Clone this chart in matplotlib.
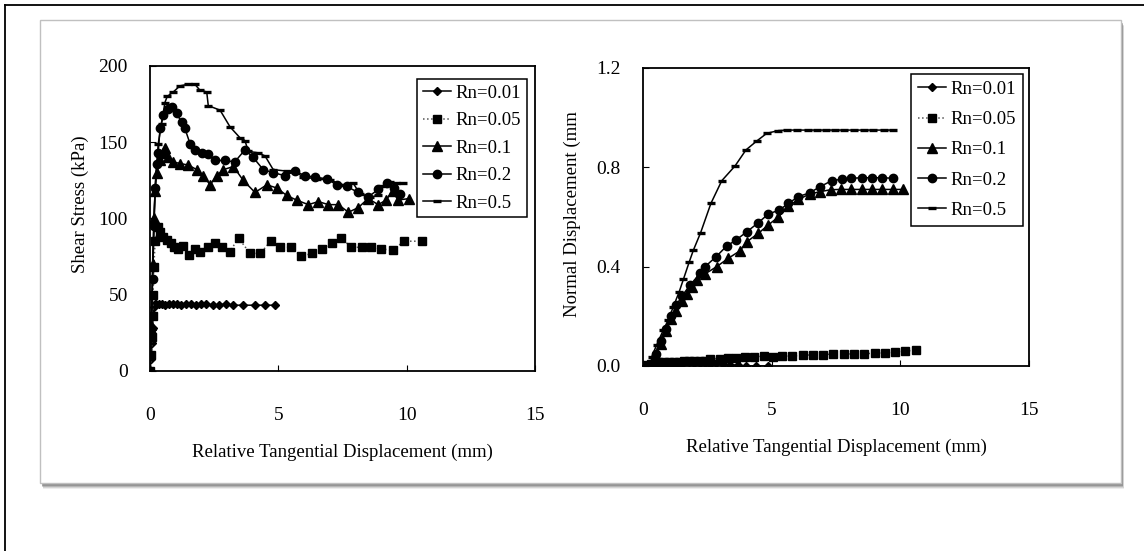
import matplotlib
matplotlib.use("Agg")
import matplotlib.pyplot as plt
from matplotlib.patches import Rectangle
from matplotlib.lines import Line2D

plt.rcParams['font.family'] = ['Liberation Serif', 'DejaVu Serif']

# ---- shear stress vs relative tangential displacement (left panel)
s01_x = [0, 0.05, 0.08, 0.1, 0.12, 0.14, 0.18, 0.25, 0.35, 0.45, 0.6, 0.75, 0.9, 1.05, 1.2, 1.4,
         1.6, 1.8, 2.0, 2.2, 2.45, 2.7, 2.95, 3.23, 3.62, 4.09, 4.48, 4.87]
s01_y = [0, 8, 18, 28, 36, 42, 44, 44, 44, 44, 43, 44, 44, 44, 43, 44,
         44, 43, 44, 44, 43, 43, 44, 43, 43, 43, 43, 43]

s05_x = [0, 0.05, 0.08, 0.1, 0.12, 0.15, 0.2, 0.3, 0.4, 0.5, 0.65, 0.8, 0.95, 1.1, 1.3, 1.5,
         1.75, 1.95, 2.25, 2.55, 2.8, 3.1, 3.45, 3.9, 4.3, 4.7, 5.05, 5.5, 5.9, 6.3, 6.7,
         7.1, 7.45, 7.85, 8.25, 8.6, 9.0, 9.45, 9.9, 10.6]
s05_y = [0, 10, 22, 36, 50, 68, 85, 94, 91, 88, 86, 84, 81, 80, 82, 76,
         80, 78, 81, 84, 81, 78, 87, 77, 77, 85, 81, 81, 75, 77, 80,
         84, 87, 81, 81, 81, 80, 79, 85, 85]

s1_x = [0, 0.05, 0.1, 0.15, 0.2, 0.26, 0.39, 0.5, 0.58, 0.71, 0.91, 1.17, 1.49, 1.82, 2.08,
        2.34, 2.6, 2.86, 3.25, 3.63, 4.09, 4.55, 4.93, 5.33, 5.71, 6.17, 6.56, 6.95, 7.34,
        7.73, 8.11, 8.5, 8.89, 9.2, 9.45, 9.66, 10.1]
s1_y = [0, 30, 70, 100, 118, 130, 138, 143, 146, 140, 137, 136, 135, 132, 128,
        122, 128, 132, 134, 125, 117, 122, 120, 115, 112, 109, 111, 109, 109,
        104, 107, 113, 109, 112, 118, 112, 113]

s2_x = [0, 0.05, 0.1, 0.15, 0.2, 0.26, 0.32, 0.39, 0.52, 0.71, 0.84, 1.04, 1.23, 1.36, 1.56,
        1.75, 2.01, 2.27, 2.53, 2.92, 3.3, 3.7, 4.02, 4.41, 4.8, 5.26, 5.65, 6.04, 6.43,
        6.88, 7.27, 7.66, 8.11, 8.5, 8.89, 9.22, 9.5, 9.75]
s2_y = [0, 25, 60, 95, 120, 136, 143, 159, 168, 172, 173, 169, 163, 159, 149,
        145, 143, 142, 138, 138, 137, 145, 140, 132, 130, 128, 131, 128, 127,
        126, 122, 121, 117, 114, 119, 123, 120, 116]

s5_x = [0, 0.1, 0.2, 0.32, 0.45, 0.58, 0.67, 0.91, 1.17, 1.49, 1.75, 1.95, 2.21, 2.27, 2.73,
        3.12, 3.5, 3.7, 3.83, 4.22, 4.48, 4.8, 5.33, 5.65, 5.97, 6.5, 7.01, 7.53, 7.92,
        8.18, 8.57, 8.89, 9.09, 9.35, 9.6, 9.85]
s5_y = [0, 60, 120, 149, 162, 176, 180, 183, 187, 188, 188, 184, 183, 174, 171,
        160, 153, 151, 144, 143, 141, 132, 131, 131, 127, 126, 125, 122, 123,
        116, 114, 115, 121, 124, 123, 123]

# ---- normal displacement vs relative tangential displacement (right panel)
n01_x = [0, 0.1, 0.2, 0.3, 0.4, 0.5, 0.6, 0.7, 0.8, 0.9, 1.0, 1.2, 1.4, 1.6, 1.8, 2.0, 2.2,
         2.4, 2.6, 2.85, 3.1, 3.4, 3.7, 4.0, 4.4, 4.85]
n01_y = [0, 0.003, 0.006, 0.008, 0.01, 0.012, 0.014, 0.015, 0.015, 0.015, 0.015, 0.015,
         0.015, 0.015, 0.015, 0.014, 0.013, 0.012, 0.01, 0.012, 0.008, 0.005, 0.003, 0.0,
         0.0, 0.0]

n05_x = [0, 0.15, 0.3, 0.45, 0.6, 0.8, 1.0, 1.2, 1.4, 1.6, 1.8, 2.0, 2.2, 2.4, 2.6, 3.0,
         3.3, 3.6, 3.95, 4.3, 4.7, 5.05, 5.4, 5.8, 6.2, 6.6, 7.0, 7.4, 7.8, 8.2, 8.6,
         9.0, 9.4, 9.8, 10.2, 10.6]
n05_y = [0, 0.005, 0.01, 0.013, 0.015, 0.017, 0.017, 0.018, 0.018, 0.019, 0.02, 0.02,
         0.02, 0.02, 0.03, 0.03, 0.032, 0.034, 0.036, 0.038, 0.039, 0.038, 0.04, 0.04,
         0.043, 0.045, 0.046, 0.048, 0.048, 0.049, 0.05, 0.051, 0.053, 0.055, 0.06, 0.064]

n1_x = [0, 0.3, 0.5, 0.7, 0.9, 1.1, 1.3, 1.5, 1.7, 1.9, 2.1, 2.4, 2.86, 3.32, 3.77, 4.03,
        4.48, 4.87, 5.26, 5.65, 6.04, 6.49, 6.88, 7.3, 7.7, 8.1, 8.5, 8.9, 9.3, 9.7, 10.1]
n1_y = [0, 0.0, 0.04, 0.09, 0.14, 0.19, 0.22, 0.26, 0.29, 0.32, 0.345, 0.37, 0.40, 0.434,
        0.464, 0.50, 0.534, 0.568, 0.60, 0.644, 0.671, 0.693, 0.702, 0.71, 0.711, 0.711,
        0.711, 0.711, 0.711, 0.711, 0.711]

n2_x = [0, 0.3, 0.5, 0.7, 0.9, 1.1, 1.3, 1.5, 1.83, 2.22, 2.41, 2.84, 3.25, 3.61, 4.03,
        4.48, 4.87, 5.3, 5.65, 6.04, 6.49, 6.88, 7.33, 7.72, 8.1, 8.5, 8.9, 9.3, 9.73]
n2_y = [0, 0.0, 0.05, 0.1, 0.15, 0.2, 0.245, 0.28, 0.326, 0.373, 0.40, 0.44, 0.483, 0.507,
        0.54, 0.577, 0.612, 0.628, 0.655, 0.682, 0.698, 0.722, 0.746, 0.752, 0.756,
        0.758, 0.758, 0.758, 0.756]

n5_x = [0, 0.3, 0.34, 0.53, 0.79, 0.98, 1.18, 1.41, 1.57, 1.8, 1.96, 2.24, 2.64, 3.06,
        3.58, 4.0, 4.42, 4.81, 5.26, 5.6, 6.0, 6.4, 6.75, 7.1, 7.45, 7.8, 8.2, 8.6, 8.95,
        9.35, 9.73]
n5_y = [0, 0.0, 0.037, 0.085, 0.145, 0.185, 0.239, 0.30, 0.349, 0.42, 0.467, 0.537,
        0.655, 0.746, 0.806, 0.87, 0.906, 0.937, 0.948, 0.95, 0.95, 0.95, 0.95, 0.95,
        0.95, 0.95, 0.95, 0.95, 0.95, 0.95, 0.95]

labels = ['Rn=0.01', 'Rn=0.05', 'Rn=0.1', 'Rn=0.2', 'Rn=0.5']
x_ticks = [0, 5, 10, 15]
shear_ticks = [0, 50, 100, 150, 200]
normal_ticks = [0.0, 0.4, 0.8, 1.2]
normal_ticklabels = ['0.0', '0.4', '0.8', '1.2']

fig = plt.figure(figsize=(11.44, 5.51), dpi=100)

# outer frame (only top/left edges visible)
fig.add_artist(Line2D([5 / 1144, 1], [1 - 5 / 551, 1 - 5 / 551], color='black', lw=1.3))
fig.add_artist(Line2D([5 / 1144, 5 / 1144], [0, 1 - 5 / 551], color='black', lw=1.3))

# inner card with soft shadow
bx0, by0, bx1, by1 = 40 / 1144, 1 - 483 / 551, 1121 / 1144, 1 - 20 / 551
for i, a in enumerate([0.12, 0.2, 0.3, 0.45]):
    off = (6 - i) / 1144, (6 - i) / 551
    fig.add_artist(Rectangle((bx0 + off[0] * 0.5, by0 - off[1]), bx1 - bx0, by1 - by0,
                             facecolor='#707070', edgecolor='none', alpha=a,
                             transform=fig.transFigure, zorder=-3))
fig.add_artist(Rectangle((bx0, by0), bx1 - bx0, by1 - by0, facecolor='white',
                         edgecolor='#c0c0c0', lw=1.0, transform=fig.transFigure, zorder=-2))

ax1 = fig.add_axes([150 / 1144, 1 - 370.7 / 551, 385 / 1144, 304.7 / 551])
ax2 = fig.add_axes([643 / 1144, 1 - 366 / 551, 386 / 1144, 298 / 551])

lw = 1.1


def draw(ax, data):
    (x01, y01), (x05, y05), (x1, y1), (x2, y2), (x5, y5) = data
    ax.plot(x01, y01, color='black', lw=lw, marker='D', ms=4.5, label=labels[0])
    ax.plot(x05, y05, color='#555555', lw=lw, ls=':', marker='s', ms=5.5,
            mfc='black', mec='black', label=labels[1])
    ax.plot(x1, y1, color='black', lw=lw, marker='^', ms=6.5, label=labels[2])
    ax.plot(x2, y2, color='black', lw=lw, marker='o', ms=6, label=labels[3])
    ax.plot(x5, y5, color='black', lw=lw, marker='_', ms=6, mew=2.4, label=labels[4])
    ax.set_xlim(0, 15)
    ax.set_xticks(x_ticks)
    ax.tick_params(direction='in', length=4, width=0.8, labelsize=14)
    ax.tick_params(axis='x', pad=26)
    ax.tick_params(axis='y', pad=16)
    for sp in ax.spines.values():
        sp.set_linewidth(1.3)
    ax.set_xlabel('Relative Tangential Displacement (mm)', fontsize=13.5, labelpad=14)


draw(ax1, [(s01_x, s01_y), (s05_x, s05_y), (s1_x, s1_y), (s2_x, s2_y), (s5_x, s5_y)])
ax1.set_ylim(0, 200)
ax1.set_yticks(shear_ticks)
ax1.set_ylabel('Shear Stress (kPa)', fontsize=13.5)
ax1.yaxis.set_label_coords(-0.158, 0.547)
leg1 = ax1.legend(loc='upper right', bbox_to_anchor=(0.979, 0.957), fontsize=13.5,
                  frameon=True, fancybox=False, edgecolor='black', framealpha=1,
                  handlelength=1.5, handletextpad=0.25, labelspacing=0.55,
                  borderpad=0.3, borderaxespad=0)
leg1.get_frame().set_linewidth(1.1)

draw(ax2, [(n01_x, n01_y), (n05_x, n05_y), (n1_x, n1_y), (n2_x, n2_y), (n5_x, n5_y)])
ax2.set_ylim(0, 1.2)
ax2.set_yticks(normal_ticks)
ax2.set_yticklabels(normal_ticklabels)
ax2.set_ylabel('Normal Displacement (mm', fontsize=13.5)
ax2.yaxis.set_label_coords(-0.16, 0.51)
leg2 = ax2.legend(loc='upper right', bbox_to_anchor=(0.984, 0.979), fontsize=13.5,
                  frameon=True, fancybox=False, edgecolor='black', framealpha=1,
                  handlelength=1.5, handletextpad=0.25, labelspacing=0.7,
                  borderpad=0.35, borderaxespad=0)
leg2.get_frame().set_linewidth(1.1)

fig.savefig('out.png', dpi=100)
